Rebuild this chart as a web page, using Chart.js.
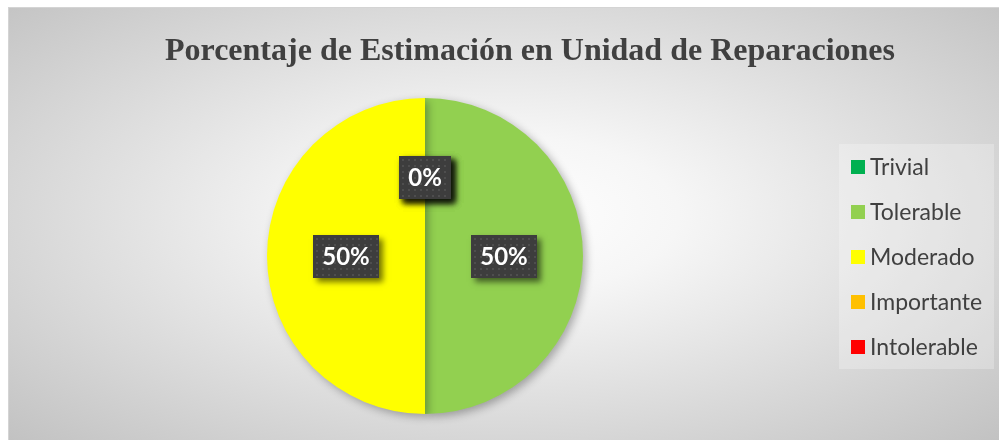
<!DOCTYPE html>
<html>
<head>
<meta charset="utf-8">
<script src="https://cdn.jsdelivr.net/npm/chart.js@4.4.1/dist/chart.umd.min.js"></script>
<style>
    html, body { margin: 0; padding: 0; background: #ffffff; }
    #frame {
        position: absolute; left: 8px; top: 7px; width: 991px; height: 433px;
        box-sizing: border-box; border-top: 1px solid #d4d4d4; border-left: 1px solid #d4d4d4;
        background: radial-gradient(ellipse farthest-corner at 50% 48%, #ffffff 0%, #f6f6f6 25%, #c2c2c2 100%);
    }
    #frame canvas { display: block; }
</style>
</head>
<body>
<div id="frame"><canvas id="pie"></canvas></div>
<script>
// chart data
var titleText = "Porcentaje de Estimación en Unidad de Reparaciones";
var categories = ["Trivial", "Tolerable", "Moderado", "Importante", "Intolerable"];
var shares = [0, 50, 50, 0, 0];
var sliceColors = ["#00B050", "#92D050", "#FFFF00", "#FFC000", "#FF0000"];

// title drawn where Excel put it (a bit right of the frame centre)
var titlePlugin = {
    id: "excelTitle",
    afterDraw: function (chart, args, opts) {
        var ctx = chart.ctx;
        ctx.save();
        ctx.font = "bold 32px 'Liberation Serif', 'Times New Roman', serif";
        ctx.fillStyle = "#404040";
        ctx.textAlign = "center";
        ctx.textBaseline = "alphabetic";
        ctx.fillText(opts.text, opts.x, opts.y);
        ctx.restore();
    }
};

// soft drop shadow under the pie
var shadowPlugin = {
    id: "pieShadow",
    beforeDatasetsDraw: function (chart) {
        var ctx = chart.ctx;
        ctx.save();
        ctx.shadowColor = "rgba(0,0,0,0.3)";
        ctx.shadowBlur = 8;
        ctx.shadowOffsetX = 3;
        ctx.shadowOffsetY = 3;
    },
    afterDatasetsDraw: function (chart) {
        chart.ctx.restore();
    }
};

// dark patterned boxes with the percentage, at the slice centroids
var labelPlugin = {
    id: "boxLabels",
    afterDatasetsDraw: function (chart) {
        var ctx = chart.ctx;
        var meta = chart.getDatasetMeta(0);
        var data = chart.data.datasets[0].data;
        var total = data.reduce(function (a, b) { return a + b; }, 0);
        ctx.save();
        ctx.font = "bold 24px Lato, 'Open Sans', sans-serif";
        meta.data.forEach(function (arc, i) {
            var p = arc.tooltipPosition();
            var txt = Math.round(data[i] / total * 100) + "%";
            var w = Math.round(ctx.measureText(txt).width + 18);
            var h = 43;
            var x = Math.round(p.x - w / 2), y = Math.round(p.y - h / 2);
            ctx.save();
            ctx.shadowColor = "rgba(0,0,0,0.55)";
            ctx.shadowBlur = 6;
            ctx.shadowOffsetX = 4;
            ctx.shadowOffsetY = 4;
            ctx.fillStyle = "#3d3d3d";
            ctx.fillRect(x, y, w, h);
            ctx.restore();
            ctx.fillStyle = "#4e4e4e";
            for (var gx = x + 3; gx < x + w - 1; gx += 6) {
                for (var gy = y + 3; gy < y + h - 1; gy += 6) {
                    ctx.fillRect(gx, gy, 2, 2);
                }
            }
            ctx.fillStyle = "#ffffff";
            ctx.textAlign = "center";
            ctx.textBaseline = "middle";
            ctx.fillText(txt, p.x, p.y + 1);
        });
        ctx.restore();
    }
};

// legend on the right side, in its own lighter box
var legendPlugin = {
    id: "sideLegend",
    afterDraw: function (chart, args, opts) {
        var ctx = chart.ctx;
        var ds = chart.data.datasets[0];
        ctx.save();
        ctx.fillStyle = "rgba(255,255,255,0.25)";
        ctx.fillRect(opts.x, opts.y, opts.width, opts.height);
        ctx.font = "23px Lato, 'Open Sans', sans-serif";
        ctx.textBaseline = "middle";
        chart.data.labels.forEach(function (lab, i) {
            var cy = opts.firstY + i * opts.step;
            ctx.fillStyle = ds.backgroundColor[i];
            ctx.fillRect(opts.x + 12, cy - 7, 14, 14);
            ctx.fillStyle = "#404040";
            ctx.fillText(lab, opts.x + 31, cy + 1);
        });
        ctx.restore();
    }
};

var canvas = document.getElementById("pie");
canvas.width = 991;
canvas.height = 433;

new Chart(canvas, {
    type: "pie",
    data: {
        labels: categories,
        datasets: [{
            data: shares,
            backgroundColor: sliceColors,
            borderWidth: 0
        }]
    },
    options: {
        responsive: false,
        animation: false,
        layout: { padding: { top: 90, bottom: 27, left: 258, right: 417 } },
        plugins: {
            legend: { display: false },
            tooltip: { enabled: false },
            title: { display: false },
            excelTitle: { text: titleText, x: 521, y: 52 },
            sideLegend: { x: 830, y: 136, width: 155, height: 225, firstY: 159, step: 45 }
        }
    },
    plugins: [titlePlugin, shadowPlugin, labelPlugin, legendPlugin]
});
</script>
</body>
</html>
